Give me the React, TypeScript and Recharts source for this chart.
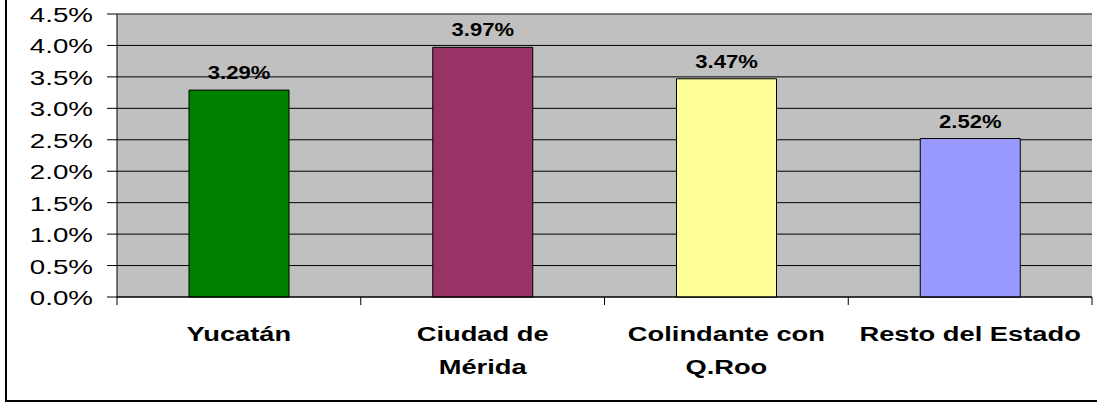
import React from 'react';
import {
  BarChart, Bar, XAxis, YAxis, CartesianGrid, Cell, LabelList, ReferenceLine
} from 'recharts';

const categories = ['Yucatán', 'Ciudad de\nMérida', 'Colindante con\nQ.Roo', 'Resto del Estado'];
const values = [3.29, 3.97, 3.47, 2.52];
const barColors = ['#008000', '#993366', '#FFFF99', '#9999FF'];
const yTicks = [0, 0.5, 1, 1.5, 2, 2.5, 3, 3.5, 4, 4.5];

const data = categories.map((name, i) => ({ name, value: values[i] }));

const FONT = '"Liberation Sans", Arial, sans-serif';

const YTick = ({ x, y, payload }: any) => (
  <text
    transform={`translate(${x},${y + 8}) scale(1.32,1)`}
    textAnchor="end"
    fontFamily={FONT}
    fontSize={21}
    fill="#000"
  >
    {payload.value.toFixed(1)}%
  </text>
);

const XTick = ({ x, y, payload, index, visibleTicksCount }: any) => {
  const half = payload.offset || 121.875;
  const lines = String(payload.value).split('\n');
  const last = index === (visibleTicksCount ?? categories.length) - 1;
  return (
    <g>
      <line x1={x - half} x2={x - half} y1={y - 8} y2={y} stroke="#000" />
      {last && <line x1={x + half} x2={x + half} y1={y - 8} y2={y} stroke="#000" />}
      {lines.map((ln, i) => (
        <text
          key={i}
          transform={`translate(${x},${y + 36 + i * 33}) scale(1.3,1)`}
          textAnchor="middle"
          fontFamily={FONT}
          fontWeight="bold"
          fontSize={21}
          fill="#000"
        >
          {ln}
        </text>
      ))}
    </g>
  );
};

const ValueLabel = ({ x, y, width, value }: any) => (
  <text
    transform={`translate(${x + width / 2},${y - 11}) scale(1.16,1)`}
    textAnchor="middle"
    fontFamily={FONT}
    fontWeight="bold"
    fontSize={19}
    fill="#000"
  >
    {Number(value).toFixed(2)}%
  </text>
);

const App: React.FC = () => {
  return (
    <div style={{ position: 'absolute', left: 0, top: 0, width: 1097, height: 402, overflow: 'hidden', background: '#fff' }}>
      <div
        style={{
          position: 'absolute', left: 5, top: -10, width: 1200, height: 412,
          boxSizing: 'border-box', border: '2px solid #000'
        }}
      />
      <div style={{ position: 'absolute', left: 0, top: 0 }}>
        <BarChart
          width={1097}
          height={402}
          data={data}
          margin={{ top: 14, right: 5, bottom: 15, left: 0 }}
          barSize={100}
        >
          <CartesianGrid vertical={false} fill="#C0C0C0" stroke="#000" fillOpacity={1} />
          <ReferenceLine y={4.5} stroke="#808080" />
          <XAxis
            dataKey="name"
            height={90}
            axisLine={{ stroke: '#000' }}
            tickLine={false}
            tickSize={8}
            tickMargin={0}
            interval={0}
            tick={<XTick />}
          />
          <YAxis
            width={117}
            domain={[0, 4.5]}
            ticks={yTicks}
            interval={0}
            axisLine={{ stroke: '#000' }}
            tickLine={{ stroke: '#000' }}
            tickSize={10}
            tickMargin={14}
            tick={<YTick />}
          />
          <YAxis
            yAxisId="right"
            orientation="right"
            width={0}
            domain={[0, 4.5]}
            tick={false}
            tickLine={false}
            axisLine={{ stroke: '#808080' }}
          />
          <Bar dataKey="value" stroke="#000" strokeWidth={1} isAnimationActive={false}>
            {data.map((d, i) => (
              <Cell key={d.name} fill={barColors[i]} />
            ))}
            <LabelList dataKey="value" content={<ValueLabel />} />
          </Bar>
        </BarChart>
      </div>
    </div>
  );
};

export default App;
